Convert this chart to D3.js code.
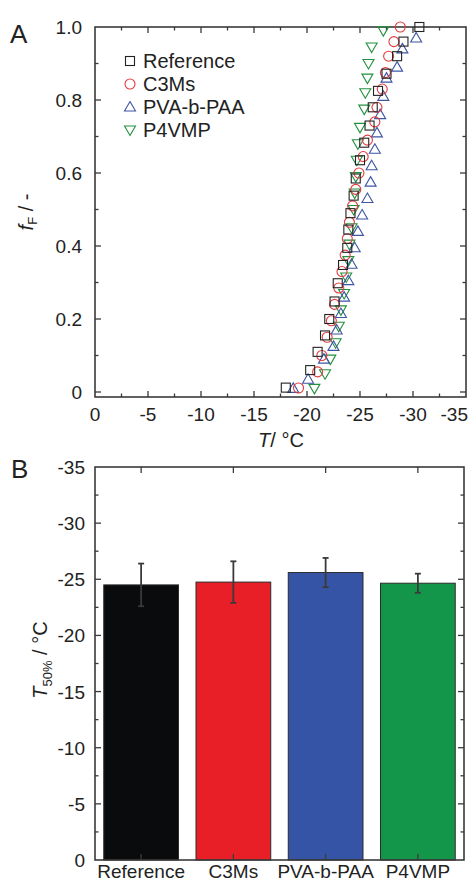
<!DOCTYPE html>
<html><head><meta charset="utf-8">
<script src="https://cdn.jsdelivr.net/npm/d3@7"></script>
<style>body{margin:0;background:#fff}svg{display:block;font-family:"Liberation Sans",Arial,sans-serif}</style>
</head><body><svg id="c" width="471" height="884"></svg>
<script>
// Panel A data
const refT = [-18.0,-20.3,-21.0,-21.7,-22.1,-22.6,-22.9,-23.4,-23.8,-23.9,-24.1,-24.4,-24.6,-25.0,-25.4,-25.9,-26.2,-26.7,-27.5,-28.5,-29.1,-30.6];
const refF = [0.012,0.06,0.11,0.155,0.2,0.248,0.298,0.348,0.395,0.445,0.49,0.538,0.585,0.635,0.683,0.73,0.78,0.825,0.872,0.92,0.96,1.0];
const c3mT = [-19.2,-21.0,-21.4,-21.9,-22.3,-22.6,-23.0,-23.3,-23.6,-23.8,-24.0,-24.3,-24.6,-24.9,-25.3,-25.7,-26.4,-26.6,-27.1,-27.4,-27.7,-28.2,-28.8];
const c3mF = [0.011,0.055,0.10,0.15,0.195,0.24,0.285,0.33,0.375,0.42,0.465,0.51,0.555,0.6,0.645,0.69,0.74,0.78,0.83,0.875,0.92,0.96,1.0];
const pvaT = [-18.7,-20.1,-21.6,-22.5,-22.8,-23.2,-23.5,-23.9,-24.2,-24.5,-24.8,-25.2,-25.7,-26.0,-26.1,-26.4,-26.6,-26.9,-27.2,-27.5,-28.5,-29.0,-30.3];
const pvaF = [0.01,0.035,0.09,0.125,0.17,0.215,0.26,0.305,0.35,0.395,0.44,0.485,0.53,0.575,0.62,0.665,0.71,0.76,0.81,0.86,0.89,0.94,0.97];
const p4T = [-20.7,-21.7,-22.2,-22.7,-23.0,-23.2,-23.5,-23.7,-23.9,-24.0,-24.2,-24.4,-24.5,-24.6,-24.7,-24.8,-25.0,-25.4,-25.5,-25.7,-25.8,-26.1,-27.2];
const p4F = [0.01,0.05,0.09,0.135,0.18,0.225,0.27,0.315,0.36,0.405,0.45,0.5,0.545,0.59,0.635,0.68,0.725,0.775,0.82,0.86,0.9,0.945,0.99];
const seriesNames = ["Reference","C3Ms","PVA-b-PAA","P4VMP"];
const xTicksA = [0,-5,-10,-15,-20,-25,-30,-35];
const yTicksA = [0,0.2,0.4,0.6,0.8,1.0];
const yTickLabelsA = ["0","0.2","0.4","0.6","0.8","1.0"];
// Panel B data
const barCats = ["Reference","C3Ms","PVA-b-PAA","P4VMP"];
const barVals = [-24.5,-24.75,-25.6,-24.65];
const barErr = [1.9,1.85,1.3,0.85];
const yTicksB = [0,-5,-10,-15,-20,-25,-30,-35];

const markerCol = ["#222","#e33b3f","#3e55a3","#23913f"];
const barCol = ["#0a0b0d","#e91f27","#3654a6","#13964a"];

const svg = d3.select("#c");
const axisCol = "#3a3a3a";

// ---------- Panel A ----------
const A = {l:95,r:466,t:27,b:397};
const xA = d3.scaleLinear().domain([0,-35]).range([A.l,A.r]);
const yA = d3.scaleLinear().domain([-0.0137,1.0]).range([A.b,A.t]);

const gA = svg.append("g");
const xMinorA = d3.range(0,-35.01,-2.5);
const yMinorA = d3.range(0,1.001,0.1);
xMinorA.forEach(v=>{
  const maj = Math.abs(v%5)<1e-6;
  const L = maj?6:3.5;
  if(v===0||v===-35) return;
  gA.append("line").attr("x1",xA(v)).attr("x2",xA(v)).attr("y1",A.b).attr("y2",A.b-L).attr("stroke",axisCol).attr("stroke-width",1.3);
  gA.append("line").attr("x1",xA(v)).attr("x2",xA(v)).attr("y1",A.t).attr("y2",A.t+L).attr("stroke",axisCol).attr("stroke-width",1.3);
});
yMinorA.forEach(v=>{
  const maj = Math.round(v*10)%2===0;
  const L = maj?6:3.5;
  if(v>0.99) return;
  gA.append("line").attr("x1",A.l).attr("x2",A.l+L).attr("y1",yA(v)).attr("y2",yA(v)).attr("stroke",axisCol).attr("stroke-width",1.3);
  gA.append("line").attr("x1",A.r).attr("x2",A.r-L).attr("y1",yA(v)).attr("y2",yA(v)).attr("stroke",axisCol).attr("stroke-width",1.3);
});
gA.append("rect").attr("x",A.l).attr("y",A.t).attr("width",A.r-A.l).attr("height",A.b-A.t).attr("fill","none").attr("stroke",axisCol).attr("stroke-width",1.6);

xTicksA.forEach((v,i)=>{
  const last = i===xTicksA.length-1;
  gA.append("text").attr("x",last?468:xA(v)).attr("y",421).attr("text-anchor",last?"end":"middle")
    .attr("font-size",19).attr("fill","#222").text(v===0?"0":String(v));
});
yTicksA.forEach((v,i)=>{
  gA.append("text").attr("x",82).attr("y",yA(v)+7).attr("text-anchor","end")
    .attr("font-size",19).attr("fill","#222").text(yTickLabelsA[i]);
});
const xt = gA.append("text").attr("x",281).attr("y",447).attr("text-anchor","middle").attr("font-size",20).attr("fill","#222");
xt.append("tspan").attr("font-style","italic").text("T");
xt.append("tspan").text("/ °C");
const yt = gA.append("text").attr("transform","translate(33,212) rotate(-90)").attr("text-anchor","middle").attr("font-size",20).attr("fill","#222");
yt.append("tspan").attr("font-style","italic").text("f");
yt.append("tspan").attr("font-size",13).attr("dy",4).text("F");
yt.append("tspan").attr("dy",-4).text(" / -");
svg.append("text").attr("x",10).attr("y",43).attr("font-size",26).attr("fill","#222").text("A");

function drawMarker(g,type,cx,cy,col){
  if(type===0) g.append("rect").attr("x",cx-4.5).attr("y",cy-4.5).attr("width",9).attr("height",9).attr("fill","none").attr("stroke",col).attr("stroke-width",1.1);
  else if(type===1) g.append("circle").attr("cx",cx).attr("cy",cy).attr("r",5).attr("fill","none").attr("stroke",col).attr("stroke-width",1.1);
  else if(type===2) g.append("path").attr("d",`M${cx},${cy-5.5}L${cx+5.5},${cy+4}L${cx-5.5},${cy+4}Z`).attr("fill","none").attr("stroke",col).attr("stroke-width",1.1);
  else g.append("path").attr("d",`M${cx},${cy+5.5}L${cx+5.5},${cy-4}L${cx-5.5},${cy-4}Z`).attr("fill","none").attr("stroke",col).attr("stroke-width",1.1);
}
const seriesT = [refT,c3mT,pvaT,p4T];
const seriesF = [refF,c3mF,pvaF,p4F];
const gPts = gA.append("g");
[3,2,1,0].forEach(s=>{
  seriesT[s].forEach((t,i)=>drawMarker(gPts,s,xA(t),yA(seriesF[s][i]),markerCol[s]));
});
seriesNames.forEach((n,i)=>{
  const ly = 61 + i*23;
  drawMarker(gA,i,130,ly,markerCol[i]);
  gA.append("text").attr("x",143).attr("y",ly+7).attr("font-size",20).attr("fill","#222").text(n);
});

// ---------- Panel B ----------
const B = {l:95,r:464,t:467,b:860};
const xB = d3.scaleBand().domain(barCats).range([B.l,B.r]).paddingInner(0.19).paddingOuter(0.095);
const yB = d3.scaleLinear().domain([0,-35]).range([B.b,B.t]);
const gB = svg.append("g");
barCats.forEach((c,i)=>{
  gB.append("rect").attr("x",xB(c)).attr("y",yB(barVals[i])).attr("width",xB.bandwidth()).attr("height",yB(0)-yB(barVals[i]))
    .attr("fill",barCol[i]).attr("stroke","#2a2a2a").attr("stroke-width",1);
});
barCats.forEach((c,i)=>{
  const cx = xB(c)+xB.bandwidth()/2;
  const y1 = yB(barVals[i]-barErr[i]), y2 = yB(barVals[i]+barErr[i]);
  gB.append("line").attr("x1",cx).attr("x2",cx).attr("y1",y1).attr("y2",y2).attr("stroke","#3a3a3a").attr("stroke-width",1.8);
  [y1,y2].forEach(y=>gB.append("line").attr("x1",cx-3).attr("x2",cx+3).attr("y1",y).attr("y2",y).attr("stroke","#3a3a3a").attr("stroke-width",1.8));
});
d3.range(0,-35.01,-2.5).forEach(v=>{
  const maj = Math.abs(v%5)<1e-6;
  const L = maj?6:3.5;
  if(v===0||v===-35) return;
  gB.append("line").attr("x1",B.l).attr("x2",B.l+L).attr("y1",yB(v)).attr("y2",yB(v)).attr("stroke",axisCol).attr("stroke-width",1.3);
  gB.append("line").attr("x1",B.r).attr("x2",B.r-L).attr("y1",yB(v)).attr("y2",yB(v)).attr("stroke",axisCol).attr("stroke-width",1.3);
});
barCats.forEach(c=>{
  const cx = xB(c)+xB.bandwidth()/2;
  gB.append("line").attr("x1",cx).attr("x2",cx).attr("y1",B.t).attr("y2",B.t+6).attr("stroke",axisCol).attr("stroke-width",1.3);
  gB.append("line").attr("x1",cx).attr("x2",cx).attr("y1",B.b).attr("y2",B.b-6).attr("stroke",axisCol).attr("stroke-width",1.3);
});
gB.append("rect").attr("x",B.l).attr("y",B.t).attr("width",B.r-B.l).attr("height",B.b-B.t).attr("fill","none").attr("stroke",axisCol).attr("stroke-width",1.6);
yTicksB.forEach(v=>{
  gB.append("text").attr("x",85).attr("y",yB(v)+7).attr("text-anchor","end").attr("font-size",19).attr("fill","#222").text(String(v));
});
barCats.forEach(c=>{
  gB.append("text").attr("x",xB(c)+xB.bandwidth()/2).attr("y",878).attr("text-anchor","middle").attr("font-size",19).attr("fill","#222").text(c);
});
const ytB = gB.append("text").attr("transform","translate(47,660) rotate(-90)").attr("text-anchor","middle").attr("font-size",20).attr("fill","#222");
ytB.append("tspan").attr("font-style","italic").text("T");
ytB.append("tspan").attr("font-size",13).attr("dy",5).text("50%");
ytB.append("tspan").attr("dy",-5).text(" / °C");
svg.append("text").attr("x",11).attr("y",478).attr("font-size",26).attr("fill","#222").text("B");
</script></body></html>
